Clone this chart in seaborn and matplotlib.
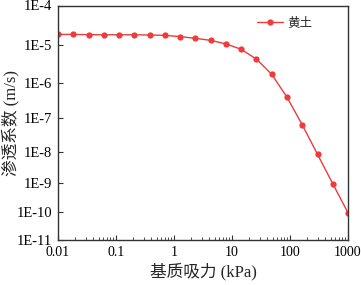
import numpy as np
import pandas as pd
import matplotlib
matplotlib.use("Agg")
import matplotlib.pyplot as plt
import seaborn as sns
from matplotlib.ticker import FixedLocator, LogLocator, NullFormatter, NullLocator

# ---- data ----
suction_kpa = [0.01, 0.0183, 0.0336, 0.0616, 0.113, 0.207, 0.379, 0.695, 1.27, 2.34,
               4.28, 7.85, 14.4, 26.4, 48.3, 88.6, 162, 298, 546, 1000]
permeability = [1.89e-5, 1.89e-5, 1.86e-5, 1.85e-5, 1.85e-5, 1.85e-5, 1.82e-5, 1.79e-5,
                1.66e-5, 1.50e-5, 1.33e-5, 1.08e-5, 7.8e-6, 4.3e-6, 1.7e-6, 4.0e-7,
                6.5e-8, 8.3e-9, 9.5e-10, 9.6e-11]
series_name = "黄土"
y_tick_values = [1e-4, 1e-5, 1e-6, 1e-7, 1e-8, 1e-9, 1e-10, 1e-11]
y_tick_labels = ["1E-4", "1E-5", "1E-6", "1E-7", "1E-8", "1E-9", "1E-10", "1E-11"]
x_tick_values = [0.01, 0.1, 1, 10, 100, 1000]
x_tick_labels = ["0.01", "0.1", "1", "10", "100", "1000"]

df = pd.DataFrame({"x": suction_kpa, "y": permeability, "s": series_name})

sns.set_style("ticks")
plt.rcParams["font.family"] = ["Liberation Serif", "Noto Sans CJK SC"]
plt.rcParams["axes.unicode_minus"] = False

fig = plt.figure(figsize=(3.61, 2.85), dpi=100)
ax = fig.add_axes([58 / 361, 1 - 239.5 / 285, 290 / 361, 234 / 285])

# compressed log scale on y (decade spacing shrinks toward the bottom, as in the reference)
C = 0.02552

def fwd(y):
    y = np.asarray(y, dtype=float)
    with np.errstate(divide="ignore", invalid="ignore"):
        t = -np.log10(np.where(y > 0, y, 1e-300)) - 4
    return -(t - C * t * t)

def inv(v):
    v = np.asarray(v, dtype=float)
    d = np.clip(1 + 4 * C * v, 1e-12, None)
    t = (1 - np.sqrt(d)) / (2 * C)
    return 10 ** (-(t + 4))

red = "#ee3b3b"
sns.lineplot(data=df, x="x", y="y", hue="s", palette=[red], marker="o",
             markersize=4.5, markeredgewidth=0, linewidth=1.0, ax=ax)

ax.set_xscale("log")
ax.set_yscale("function", functions=(fwd, inv))
ax.set_xlim(0.01, 1000)
ax.set_ylim(1e-11, 1e-4)

ax.yaxis.set_major_locator(FixedLocator(y_tick_values))
ax.set_yticklabels(y_tick_labels)
ax.yaxis.set_minor_locator(NullLocator())
ax.xaxis.set_major_locator(FixedLocator(x_tick_values))
ax.set_xticklabels(x_tick_labels)
ax.xaxis.set_minor_locator(LogLocator(base=10, subs=np.arange(2, 10), numticks=20))
ax.xaxis.set_minor_formatter(NullFormatter())

ax.tick_params(axis="both", which="major", direction="in", length=3.5, width=0.8,
               labelsize=10.5, colors="#333333", labelcolor="black")
ax.tick_params(axis="x", which="major", pad=5, labelsize=10)
ax.tick_params(axis="y", which="major", pad=4)
ax.tick_params(axis="x", which="minor", direction="in", length=2, width=0.6, colors="#333333")

for sp in ax.spines.values():
    sp.set_visible(True)
    sp.set_color("#333333")
    sp.set_linewidth(1.0)

ax.set_xlabel("基质吸力 (kPa)", fontsize=12, va="top")
ax.xaxis.set_label_coords(0.5, -(263 - 239.5) / 234)
ax.set_ylabel("渗透系数 (m/s)", fontsize=12)
ax.yaxis.set_label_coords(-(58 - 19) / 290, 0.5)

leg = ax.legend(loc="upper left", frameon=False, fontsize=9, handlelength=2.1,
                handletextpad=0.3, borderaxespad=0.0, borderpad=0.4,
                bbox_to_anchor=((252 - 58) / 290, 1 - (12.5 - 5.5) / 234))

fig.savefig("out.png", dpi=100)
